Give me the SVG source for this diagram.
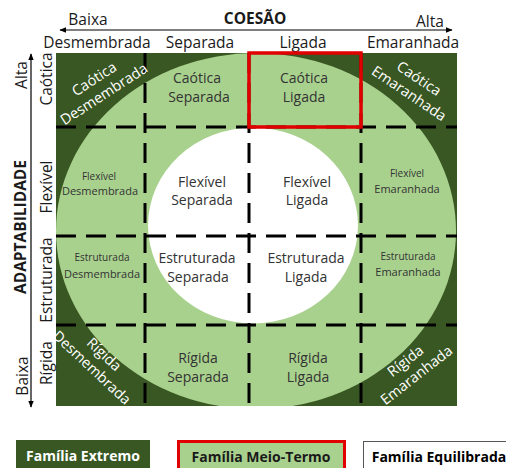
<svg xmlns="http://www.w3.org/2000/svg" width="506" height="468" viewBox="0 0 506 468">
<defs>
<style>
text{font-family:"Open Sans","Noto Sans",sans-serif;text-anchor:middle}
.h{font-size:15.5px;fill:#1a1a1a}
.b{font-weight:bold}
.c{font-size:14px;fill:#333}
.s1{font-size:10px;fill:#333}
.s2{font-size:11px;fill:#333}
.w{font-size:14.5px;fill:#fff}
.dash{stroke:#000;stroke-width:3;stroke-dasharray:20 10;fill:none}
.ax{stroke:#000;stroke-width:1.2;fill:none}
.lg{font-size:14px;font-weight:bold}
</style>
<clipPath id="sq"><rect x="56" y="53" width="401" height="353"/></clipPath>
<marker id="ah" viewBox="0 0 10 10" refX="9" refY="5" markerWidth="7" markerHeight="7" orient="auto-start-reverse" markerUnits="userSpaceOnUse"><path d="M0,1 L10,5 L0,9 Z" fill="#000"/></marker>
</defs>
<rect width="506" height="468" fill="#fff"/>
<g id="grid">
<rect x="56" y="53" width="401" height="353" fill="#385723"/>
<ellipse cx="256" cy="231" rx="200" ry="178" fill="#a9d18e" clip-path="url(#sq)"/>
<ellipse cx="253" cy="225.5" rx="105" ry="98" fill="#fff"/>
</g>
<g id="connectors">
<line class="ax" x1="60" y1="30" x2="452" y2="30" marker-start="url(#ah)" marker-end="url(#ah)"/>
<line class="ax" x1="31" y1="54" x2="31" y2="407" marker-start="url(#ah)" marker-end="url(#ah)"/>
<line class="dash" x1="145" y1="53" x2="145" y2="406"/>
<line class="dash" x1="249" y1="53" x2="249" y2="406"/>
<line class="dash" x1="361" y1="53" x2="361" y2="406"/>
<line class="dash" x1="56" y1="127" x2="457" y2="127"/>
<line class="dash" x1="56" y1="236" x2="457" y2="236"/>
<line class="dash" x1="56" y1="325" x2="457" y2="325"/>
</g>
<g id="axis-labels">
<text class="h" x="88" y="25">Baixa</text>
<text class="h b" x="255" y="24">COESÃO</text>
<text class="h" x="430" y="27">Alta</text>
<text class="h" x="97" y="48">Desmembrada</text>
<text class="h" x="200" y="48">Separada</text>
<text class="h" x="303" y="48">Ligada</text>
<text class="h" x="413" y="48">Emaranhada</text>
<text class="h" transform="translate(27,75) rotate(-90)">Alta</text>
<text class="h b" transform="translate(26,227) rotate(-90)">ADAPTABILIDADE</text>
<text class="h" transform="translate(28,376) rotate(-90)">Baixa</text>
<text class="h" transform="translate(52,79) rotate(-90)">Caótica</text>
<text class="h" transform="translate(52,187) rotate(-90)">Flexível</text>
<text class="h" transform="translate(52,280) rotate(-90)">Estruturada</text>
<text class="h" transform="translate(52,363) rotate(-90)">Rígida</text>
</g>
<g id="caotica-desmembrada"><g transform="translate(99,86.5) rotate(-33)"><text class="w" y="-4">Caótica</text><text class="w" y="14">Desmembrada</text></g></g>
<g id="caotica-separada"><text class="c" x="197" y="83">Caótica</text><text class="c" x="199" y="102">Separada</text></g>
<g id="caotica-ligada"><text class="c" x="304" y="83">Caótica</text><text class="c" x="304" y="102">Ligada</text></g>
<g id="caotica-emaranhada"><g transform="translate(414,86) rotate(34)"><text class="w" y="-4">Caótica</text><text class="w" y="14">Emaranhada</text></g></g>
<g id="flexivel-desmembrada"><text class="s1" x="99" y="180">Flexível</text><text class="s2" x="100" y="195">Desmembrada</text></g>
<g id="flexivel-separada"><text class="c" x="202" y="187">Flexível</text><text class="c" x="202" y="205">Separada</text></g>
<g id="flexivel-ligada"><text class="c" x="307" y="187">Flexível</text><text class="c" x="307" y="205">Ligada</text></g>
<g id="flexivel-emaranhada"><text class="s1" x="407" y="177">Flexível</text><text class="s2" x="407" y="193">Emaranhada</text></g>
<g id="estruturada-desmembrada"><text class="s1" x="102" y="261">Estruturada</text><text class="s2" x="102" y="278">Desmembrada</text></g>
<g id="estruturada-separada"><text class="c" x="197" y="263">Estruturada</text><text class="c" x="198" y="282">Separada</text></g>
<g id="estruturada-ligada"><text class="c" x="306" y="263">Estruturada</text><text class="c" x="306" y="282">Ligada</text></g>
<g id="estruturada-emaranhada"><text class="s1" x="408" y="260">Estruturada</text><text class="s2" x="408" y="276">Emaranhada</text></g>
<g id="rigida-desmembrada"><g transform="translate(98,361) rotate(43)"><text class="w" y="-4">Rígida</text><text class="w" y="14">Desmembrada</text></g></g>
<g id="rigida-separada"><text class="c" x="198" y="363">Rígida</text><text class="c" x="198" y="382">Separada</text></g>
<g id="rigida-ligada"><text class="c" x="308" y="363">Rígida</text><text class="c" x="308" y="382">Ligada</text></g>
<g id="rigida-emaranhada"><g transform="translate(411,368) rotate(-38)"><text class="w" y="-4">Rígida</text><text class="w" y="14">Emaranhada</text></g></g>
<g id="highlight"><rect x="249" y="53" width="112" height="74" fill="none" stroke="#e00000" stroke-width="3.5"/></g>
<g id="legend-extremo"><rect x="16" y="440" width="134" height="30" fill="#385723"/><text class="lg" x="83" y="461" fill="#fff">Família Extremo</text></g>
<g id="legend-meio"><rect x="178.5" y="441.5" width="166" height="30" fill="#a9d18e" stroke="#e00000" stroke-width="3"/><text class="lg" x="261" y="462" fill="#1a1a1a">Família Meio-Termo</text></g>
<g id="legend-equilibrada"><rect x="363.5" y="441.5" width="150" height="30" fill="#fff" stroke="#555" stroke-width="1"/><text class="lg" x="439" y="462" fill="#000">Família Equilibrada</text></g>
</svg>
